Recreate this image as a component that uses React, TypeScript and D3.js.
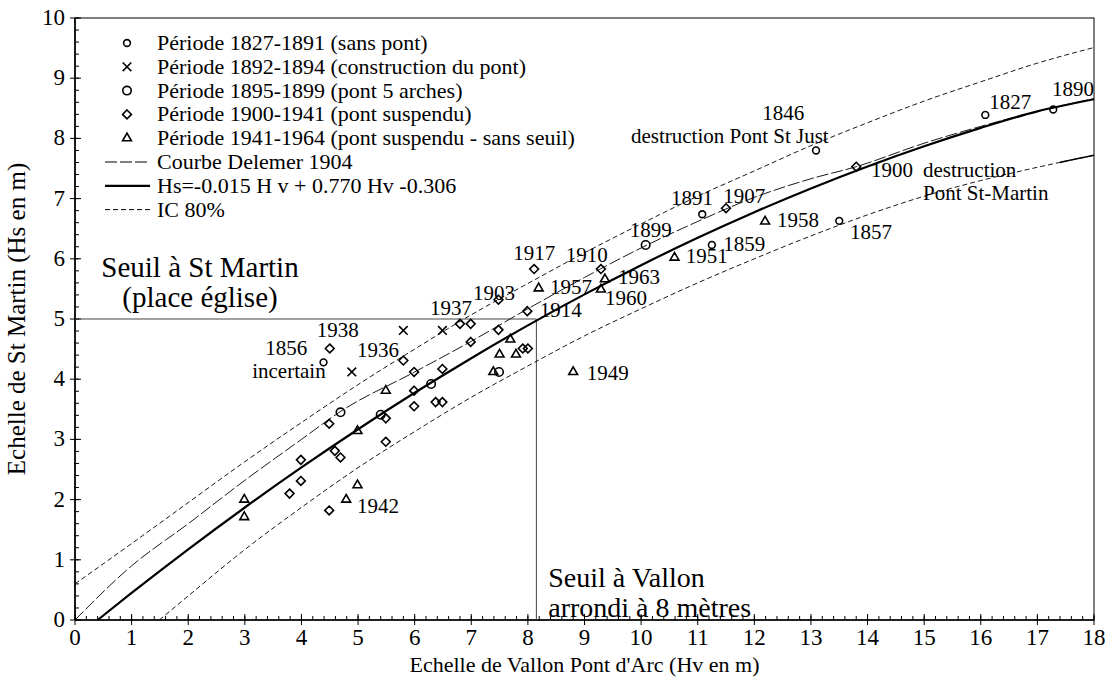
import React from 'react';
import * as d3 from 'd3';

// Points relevés (Hv = Vallon, Hs = St Martin)
const periodeSansPont: [number, number][] = [
  [4.39, 4.28], [13.09, 7.8], [16.08, 8.39], [17.28, 8.48], [11.08, 6.74], [11.25, 6.23], [13.5, 6.63],
];
const periodeConstruction: [number, number][] = [
  [4.89, 4.12], [5.8, 4.81], [6.49, 4.81],
];
const periodeCinqArches: [number, number][] = [
  [10.08, 6.23], [4.69, 3.45], [5.4, 3.41], [6.29, 3.92], [7.49, 4.12],
];
const periodeSuspendu: [number, number][] = [
  [3.79, 2.1], [3.99, 2.31], [3.99, 2.66], [4.49, 1.82], [4.59, 2.81], [4.69, 2.7], [4.49, 3.26],
  [5.49, 3.35], [5.49, 2.96], [4.5, 4.51], [5.8, 4.31], [5.99, 4.12], [6.49, 4.17], [5.99, 3.81],
  [5.99, 3.55], [6.37, 3.62], [6.49, 3.62], [6.8, 4.92], [6.99, 4.92], [6.99, 4.62], [7.48, 5.32],
  [7.48, 4.82], [7.91, 4.51], [8.0, 4.51], [7.99, 5.13], [8.11, 5.83], [9.29, 5.83], [11.5, 6.84],
  [13.8, 7.53],
];
const periodeSansSeuil: [number, number][] = [
  [2.99, 2.0], [2.99, 1.71], [4.79, 2.0], [4.99, 2.24], [4.99, 3.14], [5.49, 3.81], [7.69, 4.66],
  [7.5, 4.41], [7.79, 4.41], [7.39, 4.12], [8.19, 5.51], [8.8, 4.12], [9.36, 5.66], [9.29, 5.49],
  [10.59, 6.02], [12.19, 6.62],
];

// Courbes
const regHv = [0.4, 1, 2, 3, 4, 5, 6, 7, 8, 9, 10, 11, 12, 13, 14, 15, 16, 17, 18];
const regHs = [0, 0.449, 1.174, 1.869, 2.534, 3.169, 3.774, 4.349, 4.894, 5.409, 5.894, 6.349, 6.774, 7.169, 7.534, 7.869, 8.174, 8.449, 8.65];
const delemerHv = [0, 1, 2, 3, 4, 4.7, 6, 7, 8, 9, 10, 11, 12, 13, 13.8, 15, 16, 17, 18];
const delemerHs = [0, 0.9, 1.6, 2.32, 3.0, 3.47, 4.12, 4.63, 5.17, 5.69, 6.18, 6.62, 7.02, 7.33, 7.53, 7.92, 8.2, 8.45, 8.66];
const icHautHv = [0, 1, 2, 3, 4, 5, 6, 7, 8, 9, 10, 11, 12, 13, 14, 15, 16, 17, 18];
const icHautHs = [0.6, 1.27, 1.95, 2.63, 3.28, 3.91, 4.5, 5.07, 5.59, 6.1, 6.58, 7.04, 7.46, 7.88, 8.26, 8.62, 8.94, 9.25, 9.51];
const icBasHv = [1.49, 2, 3, 4, 5, 6, 7, 8, 9, 10, 11, 12, 13, 14, 15, 16, 17, 18];
const icBasHs = [0, 0.4, 1.17, 1.87, 2.53, 3.13, 3.7, 4.22, 4.72, 5.17, 5.6, 6.0, 6.38, 6.73, 7.04, 7.3, 7.52, 7.72];

const seuilVallon = 8.15;
const seuilStMartin = 5;

const legendLabels = [
  'Période 1827-1891 (sans pont)',
  'Période 1892-1894 (construction du pont)',
  'Période 1895-1899 (pont 5 arches)',
  'Période 1900-1941 (pont suspendu)',
  'Période 1941-1964 (pont suspendu - sans seuil)',
  'Courbe Delemer 1904',
  'Hs=-0.015 H v + 0.770 Hv -0.306',
  'IC 80%',
];

// annotations: [texte, Hv, Hs]
const annotations: [string, number, number][] = [
  ['1890', 17.26, 8.7], ['1827', 16.15, 8.49], ['1846', 12.14, 8.31],
  ['destruction Pont St Just', 9.82, 7.92], ['1900', 14.06, 7.36], ['destruction', 14.98, 7.36],
  ['Pont St-Martin', 14.98, 6.98], ['1891', 10.53, 6.89], ['1907', 11.45, 6.93], ['1958', 12.4, 6.53],
  ['1857', 13.69, 6.33], ['1899', 9.8, 6.36], ['1859', 11.45, 6.13], ['1951', 10.79, 5.93],
  ['1910', 8.67, 5.95], ['1963', 9.59, 5.58], ['1960', 9.36, 5.23], ['1917', 7.74, 5.98],
  ['1903', 7.03, 5.32], ['1957', 8.39, 5.42], ['1914', 8.21, 5.03], ['1937', 6.27, 5.07],
  ['1938', 4.27, 4.7], ['1856', 3.36, 4.4], ['incertain', 3.13, 4.02], ['1936', 4.98, 4.37],
  ['1949', 9.04, 3.99], ['1942', 4.98, 1.78],
];

const FONT = 'Liberation Serif, DejaVu Serif, serif';

export default function App() {
  const W = 1107, H = 684;
  const x = d3.scaleLinear().domain([0, 18]).range([75, 1094]);
  const y = d3.scaleLinear().domain([0, 10]).range([620, 18]);

  const line = d3.line<[number, number]>()
    .x(d => x(d[0]))
    .y(d => y(d[1]))
    .curve(d3.curveMonotoneX);
  const zip = (a: number[], b: number[]) => a.map((v, i) => [v, b[i]] as [number, number]);

  const sym = (type: d3.SymbolType, size: number) => d3.symbol().type(type).size(size)() || '';
  const markers = [
    sym(d3.symbolCircle, 36),
    sym(d3.symbolTimes, 50),
    sym(d3.symbolCircle, 56),
    sym(d3.symbolDiamond2, 50),
    sym(d3.symbolTriangle2, 56),
  ];
  const series = [periodeSansPont, periodeConstruction, periodeCinqArches, periodeSuspendu, periodeSansSeuil];

  const xMinor = d3.range(0, 18.001, 0.2);
  const yMinor = d3.range(0, 10.001, 0.2);

  const legendY = (i: number) => 43 + i * 23.8;
  const icBasPath = line(zip(icBasHv, icBasHs)) || '';

  return (
    <svg width={W} height={H} style={{ position: 'absolute', left: 0, top: 0, background: '#fff', fontFamily: FONT }}>
      <defs>
        <clipPath id="finIC">
          <rect x={x(17.4)} y={y(10)} width={x(18) - x(17.4)} height={y(0) - y(10)} />
        </clipPath>
      </defs>
      {/* cadre */}
      <rect x={x(0)} y={y(10)} width={x(18) - x(0)} height={y(0) - y(10)} fill="none" stroke="#000" strokeWidth={1} />
      <line x1={x(0)} x2={x(18)} y1={y(0)} y2={y(0)} stroke="#000" strokeWidth={1.6} />
      <line x1={x(0)} x2={x(0)} y1={y(0)} y2={y(10)} stroke="#000" strokeWidth={1.6} />

      {/* graduations */}
      {xMinor.map((v, i) => (
        <line key={'xm' + i} x1={x(v)} x2={x(v)} y1={y(0)} y2={y(0) - 4} stroke="#000" />
      ))}
      {yMinor.map((v, i) => (
        <line key={'ym' + i} x1={x(0)} x2={x(0) + 4} y1={y(v)} y2={y(v)} stroke="#000" />
      ))}
      {x.ticks(18).map(v => (
        <g key={'xt' + v}>
          <line x1={x(v)} x2={x(v)} y1={y(0) - 6} y2={y(0) + 5} stroke="#000" />
          <text x={x(v)} y={645} textAnchor="middle" fontSize={23}>{v}</text>
        </g>
      ))}
      {y.ticks(10).map(v => (
        <g key={'yt' + v}>
          <line x1={x(0) - 5} x2={x(0) + 6} y1={y(v)} y2={y(v)} stroke="#000" />
          <text x={65} y={y(v) + 7} textAnchor="end" fontSize={23}>{v}</text>
        </g>
      ))}
      <text x={(x(0) + x(18)) / 2} y={672} textAnchor="middle" fontSize={22}>
        Echelle de Vallon Pont d'Arc (Hv en m)
      </text>
      <text transform={`translate(25,${(y(0) + y(10)) / 2}) rotate(-90)`} textAnchor="middle" fontSize={25}>
        Echelle de St Martin (Hs en m)
      </text>

      {/* seuils */}
      <polyline
        points={`${x(0)},${y(seuilStMartin)} ${x(seuilVallon)},${y(seuilStMartin)} ${x(seuilVallon)},${y(0)}`}
        fill="none" stroke="#444" strokeWidth={1} />

      {/* courbes */}
      <path d={line(zip(icHautHv, icHautHs)) || ''} fill="none" stroke="#000" strokeWidth={0.9} strokeDasharray="5,3" />
      <path d={icBasPath} fill="none" stroke="#000" strokeWidth={0.9} strokeDasharray="5,3" />
      <path d={icBasPath} fill="none" stroke="#000" strokeWidth={1.6} clipPath="url(#finIC)" />
      <path d={line(zip(delemerHv, delemerHs)) || ''} fill="none" stroke="#000" strokeWidth={0.9} strokeDasharray="12,3" />
      <path d={line(zip(regHv, regHs)) || ''} fill="none" stroke="#000" strokeWidth={2.2} />

      {/* points */}
      {series.map((pts, si) => pts.map((p, i) => (
        <path key={si + '-' + i} d={markers[si]} transform={`translate(${x(p[0])},${y(p[1])})`}
          fill="none" stroke="#000" strokeWidth={1.6} />
      )))}

      {/* annotations */}
      {annotations.map(([t, hv, hs], i) => (
        <text key={'a' + i} x={x(hv)} y={y(hs)} fontSize={21}>{t}</text>
      ))}
      <text x={200} y={277} textAnchor="middle" fontSize={29}>Seuil à St Martin</text>
      <text x={200} y={307} textAnchor="middle" fontSize={29}>(place église)</text>
      <text x={x(8.36)} y={587} fontSize={28}>Seuil à Vallon</text>
      <text x={x(8.36)} y={617} fontSize={28}>arrondi à 8 mètres</text>

      {/* légende */}
      {legendLabels.map((t, i) => (
        <g key={'lg' + i}>
          {i < 5 && (
            <path d={markers[i]} transform={`translate(127,${legendY(i)})`} fill="none" stroke="#000" strokeWidth={1.6} />
          )}
          {i === 5 && <line x1={105} x2={150} y1={legendY(i)} y2={legendY(i)} stroke="#000" strokeDasharray="12,3" />}
          {i === 6 && <line x1={105} x2={150} y1={legendY(i)} y2={legendY(i)} stroke="#000" strokeWidth={2.2} />}
          {i === 7 && <line x1={105} x2={150} y1={legendY(i)} y2={legendY(i)} stroke="#000" strokeDasharray="5,3" />}
          <text x={157} y={legendY(i) + 7} fontSize={22}>{t}</text>
        </g>
      ))}
    </svg>
  );
}
